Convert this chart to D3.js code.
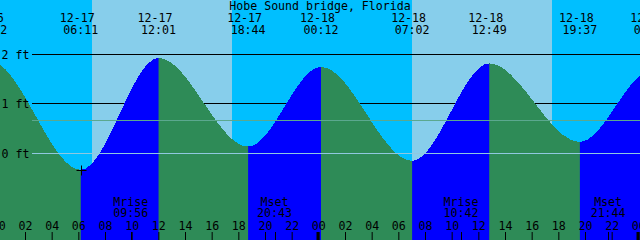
<!DOCTYPE html>
<html>
<head>
<meta charset="utf-8">
<script src="https://cdn.jsdelivr.net/npm/d3@7"></script>
<style>
body { margin: 0; background: #fff; }
svg { display: block; }
text { font-family: "DejaVu Sans Mono", monospace; font-size: 11.6px; fill: #000; }
</style>
</head>
<body>
<script>
// ========== Values ==========
// Tide highs and lows (first and last sit just outside the window).
var tideWhen = ["12-16 17:05", "12-16 23:22", "12-17 06:11", "12-17 12:01", "12-17 18:44",
  "12-18 00:12", "12-18 07:02", "12-18 12:49", "12-18 19:37", "12-19 00:58", "12-19 07:50"];
var tideFeet = [0.15, 1.85, -0.35, 1.91, 0.12, 1.73, -0.17, 1.80, 0.21, 1.65, -0.10];

// Sun and moon.
var sunRise = ["12-17 07:02", "12-18 07:03"];
var sunSet = ["12-17 17:32", "12-18 17:32"];
var moonName = ["Mrise", "Mset", "Mrise", "Mset"];
var moonWhen = ["12-17 09:56", "12-17 20:43", "12-18 10:42", "12-18 21:44"];

// Height marks.
var footTicks = [0, 1, 2];
var meanLevel = 0.65;
var nowMark = "12-17 06:11";
var title = "Hobe Sound bridge, Florida";
// =========================================================

var width = 640, height = 240;

var parseTime = d3.timeParse("%Y-%m-%d %H:%M");
function when(s) { return parseTime("2023-" + s); }

var start = d3.timeSecond.offset(when("12-17 00:07"), 30);
var x = d3.scaleTime()
  .domain([start, d3.timeHour.offset(start, 48)])
  .range([0, width]);
var y = d3.scaleLinear().domain([0, 2]).range([152.5, 53.5]);

var tide = tideWhen.map(function(s, i) { return {t: when(s), h: tideFeet[i], label: s}; });

var svg = d3.select("body").append("svg")
  .attr("width", width)
  .attr("height", height);

// Night everywhere, then day bands.
svg.append("rect")
  .attr("width", width).attr("height", height)
  .attr("fill", "#00bfff");
svg.selectAll(".day")
  .data(sunRise)
  .enter().append("rect")
  .attr("class", "day")
  .attr("shape-rendering", "crispEdges")
  .attr("x", function(d) { return x(when(d)); })
  .attr("width", function(d, i) { return x(when(sunSet[i])) - x(when(d)); })
  .attr("height", height)
  .attr("fill", "#87ceeb");

// Foot lines (black ones lie under the water).
function lineY(f) { return Math.round(y(f)) + 0.5; }
svg.selectAll(".foot")
  .data(footTicks.filter(function(f) { return f != 0; }))
  .enter().append("line")
  .attr("x1", 32).attr("x2", width)
  .attr("y1", lineY).attr("y2", lineY)
  .attr("stroke", "#000");

// Water: ebb in green, flood in blue.
var area = d3.area()
  .curve(d3.curveMonotoneX)
  .x(function(d) { return x(d.t); })
  .y0(height)
  .y1(function(d) { return y(d.h); });

var flood = svg.append("clipPath").attr("id", "flood");
for (var i = 0; i < tide.length - 1; i++)
{
  if (tide[i + 1].h > tide[i].h)
    flood.append("rect")
      .attr("x", x(tide[i].t))
      .attr("width", x(tide[i + 1].t) - x(tide[i].t))
      .attr("height", height);
}

svg.append("path")
  .datum(tide)
  .attr("d", area)
  .attr("fill", "#2e8b57")
  .attr("shape-rendering", "crispEdges");
svg.append("path")
  .datum(tide)
  .attr("d", area)
  .attr("fill", "#0000ff")
  .attr("clip-path", "url(#flood)")
  .attr("shape-rendering", "crispEdges");

// Datum and mean level lines on top.
svg.append("line")
  .attr("x1", 32).attr("x2", width)
  .attr("y1", lineY(0)).attr("y2", lineY(0))
  .attr("stroke", "#90c8e0");
svg.append("line")
  .attr("x1", 32).attr("x2", width)
  .attr("y1", lineY(meanLevel)).attr("y2", lineY(meanLevel))
  .attr("stroke", "#5ba88f");

// Foot labels.
svg.selectAll(".footLabel")
  .data(footTicks)
  .enter().append("text")
  .attr("x", 1.5)
  .attr("y", function(f) { return lineY(f) + 4; })
  .text(function(f) { return f + " ft"; });

// Hour axis along the bottom (starts one tick before the window).
var hours = d3.timeHour.every(2).range(d3.timeHour.offset(start, -1), x.domain()[1]);
var hourAxis = svg.append("g")
  .attr("transform", "translate(0," + height + ")")
  .call(d3.axisTop(x)
    .tickValues(hours)
    .tickSize(8)
    .tickPadding(2)
    .tickFormat(d3.timeFormat("%H")));
hourAxis.select(".domain").remove();
hourAxis.attr("font-family", null).attr("font-size", null);
hourAxis.selectAll("text").attr("fill", null);

// Thick midnight ticks.
svg.selectAll(".midnight")
  .data(d3.timeDay.range(x.domain()[0], x.domain()[1]))
  .enter().append("rect")
  .attr("x", function(d) { return Math.round(x(d)) - 1.5; })
  .attr("y", height - 8)
  .attr("width", 3).attr("height", 8)
  .attr("fill", "#000");

// Moon events.
svg.selectAll(".moonTick")
  .data(moonWhen)
  .enter().append("line")
  .attr("x1", function(d) { return Math.round(x(when(d))) + 0.5; })
  .attr("x2", function(d) { return Math.round(x(when(d))) + 0.5; })
  .attr("y1", height - 8).attr("y2", height)
  .attr("stroke", "#000");
svg.selectAll(".moonName")
  .data(moonWhen)
  .enter().append("text")
  .attr("text-anchor", "middle")
  .attr("x", function(d) { return x(when(d)); })
  .attr("y", 206)
  .text(function(d, i) { return moonName[i]; });
svg.selectAll(".moonClock")
  .data(moonWhen)
  .enter().append("text")
  .attr("text-anchor", "middle")
  .attr("x", function(d) { return x(when(d)); })
  .attr("y", 217)
  .text(function(d) { return d.split(" ")[1]; });

// Tide event labels along the top.
svg.selectAll(".tideDate")
  .data(tide)
  .enter().append("text")
  .attr("text-anchor", "middle")
  .attr("x", function(d) { return x(d.t) - 3.5; })
  .attr("y", 21.5)
  .text(function(d) { return d.label.split(" ")[0]; });
svg.selectAll(".tideClock")
  .data(tide)
  .enter().append("text")
  .attr("text-anchor", "middle")
  .attr("x", function(d) { return x(d.t); })
  .attr("y", 34)
  .text(function(d) { return d.label.split(" ")[1]; });

// Title.
svg.append("text")
  .attr("text-anchor", "middle")
  .attr("x", width / 2)
  .attr("y", 10)
  .text(title);

// Cross at the marked time.
var mark = tide[tideWhen.indexOf(nowMark)];
var mx = Math.round(x(mark.t)) + 0.5, my = Math.round(y(mark.h)) + 0.5;
svg.append("path")
  .attr("d", "M" + (mx - 5) + "," + my + "H" + (mx + 5) + "M" + mx + "," + (my - 5) + "V" + (my + 5))
  .attr("stroke", "#000")
  .attr("fill", "none");
</script>
</body>
</html>
